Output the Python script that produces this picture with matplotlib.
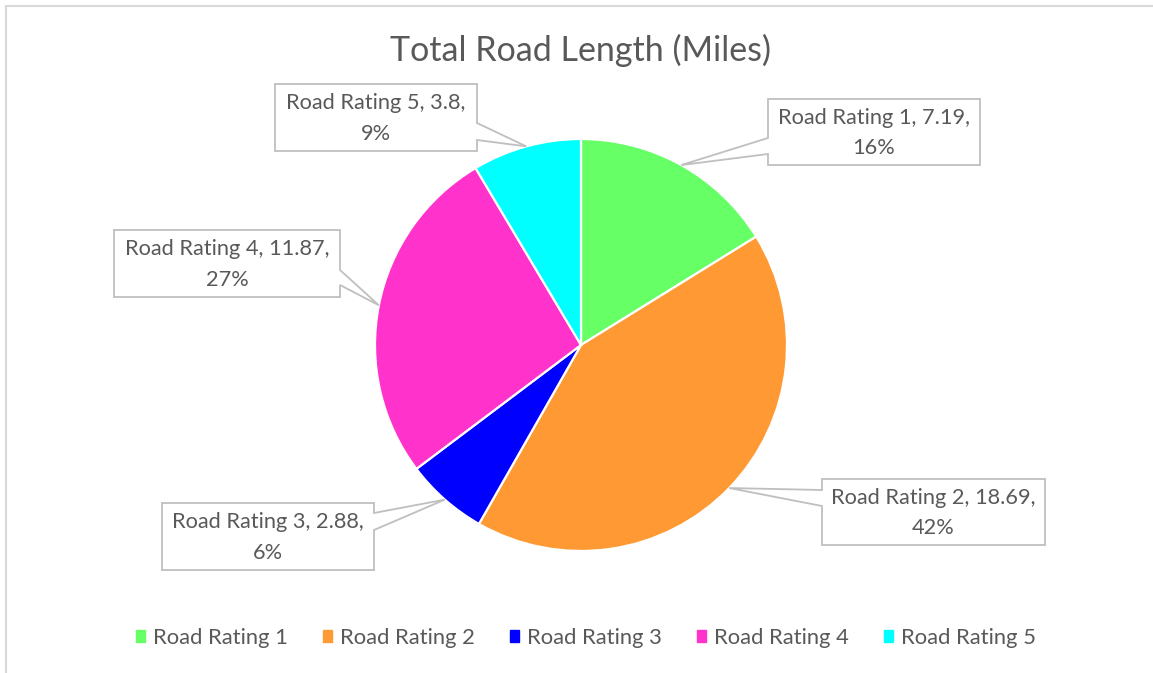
import numpy as np
import matplotlib
matplotlib.use("Agg")
import matplotlib.pyplot as plt
from matplotlib.patches import Polygon, Rectangle

plt.rcParams['font.family'] = ['Lato', 'DejaVu Sans']

# data
categories = ['Road Rating 1', 'Road Rating 2', 'Road Rating 3', 'Road Rating 4', 'Road Rating 5']
miles = [7.19, 18.69, 2.88, 11.87, 3.8]
colors = ['#66FF66', '#FF9933', '#0000FF', '#FF33CC', '#00FFFF']

W, H = 1153, 673
TXT = '#595959'

fig = plt.figure(figsize=(W / 100, H / 100), dpi=100)
ax = fig.add_axes([0, 0, 1, 1])

def Y(y):
    # pixel row (from top) -> axis y
    return H - y

cx, cy, r = 581, Y(345), 206
ax.pie(miles, colors=colors, startangle=90, counterclock=False,
       center=(cx, cy), radius=r, frame=True,
       wedgeprops=dict(edgecolor='white', linewidth=1.6))
ax.set_xlim(0, W)
ax.set_ylim(0, H)
ax.set_aspect('equal')
ax.axis('off')

# outer chart border
ax.add_patch(Rectangle((5.5, Y(680)), 1160, 674.5, fill=False, ec='#D9D9D9', lw=1.5))

ax.text(581, Y(50), 'Total Road Length (Miles)', ha='center', va='center',
        fontsize=24.5, color=TXT)

# callout boxes: (left, top, right, bottom, side, tail_a, tail_b) in pixels
boxes = [
    (768, 99, 980, 165, 'left', 138, 154),
    (822, 479, 1045, 545, 'left', 490, 506),
    (162, 503, 374, 570, 'right', 513, 530),
    (114, 230, 340, 297, 'right', 270, 285),
    (275, 84, 477, 151, 'right', 123, 140),
]

total = sum(miles)
cum = np.cumsum([0] + miles)
for i, (x0, t, x1, b, side, ta, tb) in enumerate(boxes):
    frac = (cum[i] + miles[i] / 2) / total
    ang = 2 * np.pi * frac
    tip = (cx + r * np.sin(ang), cy + r * np.cos(ang))
    if side == 'left':
        pts = [(x0, Y(t)), (x1, Y(t)), (x1, Y(b)), (x0, Y(b)), (x0, Y(tb)), tip, (x0, Y(ta))]
    else:
        pts = [(x0, Y(t)), (x1, Y(t)), (x1, Y(ta)), tip, (x1, Y(tb)), (x1, Y(b)), (x0, Y(b))]
    ax.add_patch(Polygon(pts, closed=True, fc='white', ec='#BFBFBF', lw=1.3, zorder=5))
    pct = round(100 * miles[i] / total)
    label = f'{categories[i]}, {miles[i]:g},\n{pct}%'
    ax.text((x0 + x1) / 2, Y((t + b) / 2 + 1), label, ha='center', va='center',
            fontsize=15.7, color=TXT, linespacing=1.65, zorder=6)

# legend
handles = [Rectangle((0, 0), 1, 1, color=c) for c in colors]
leg = fig.legend(handles, categories, loc='center', bbox_to_anchor=(586 / W, 1 - 638 / H),
                 ncol=5, frameon=False, fontsize=15.8, handlelength=0.42, handleheight=0.42,
                 handletextpad=0.36, columnspacing=1.6)
for t in leg.get_texts():
    t.set_color(TXT)

fig.savefig('out.png', dpi=100)
